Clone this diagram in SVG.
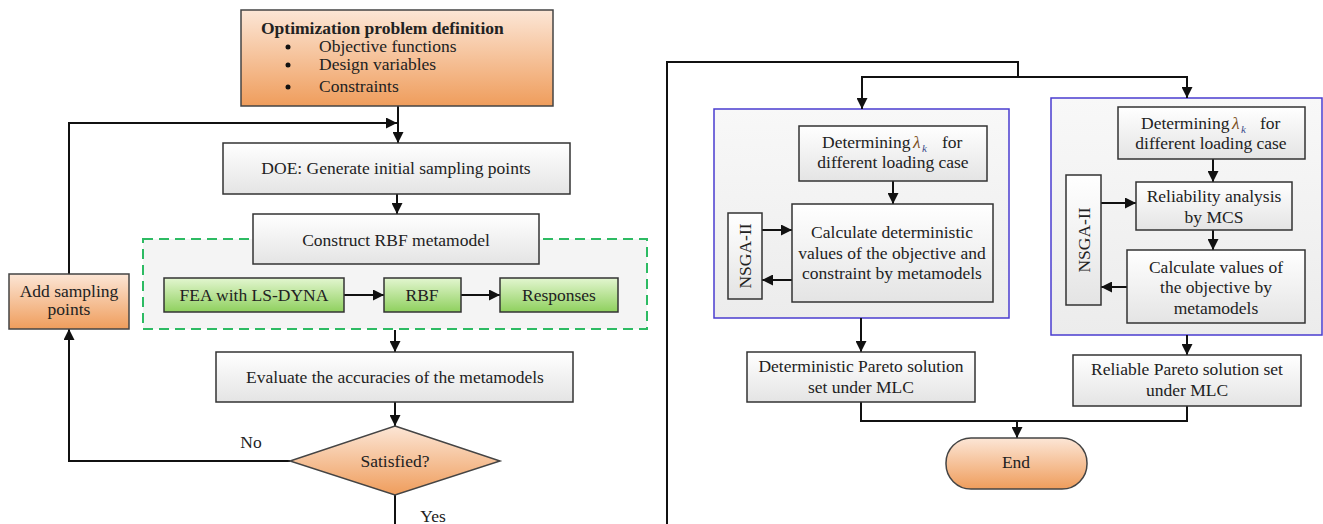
<svg xmlns="http://www.w3.org/2000/svg" width="1323" height="524" viewBox="0 0 1323 524">
<defs>
<linearGradient id="gOrange" x1="0" y1="0" x2="0" y2="1"><stop offset="0" stop-color="#fce6d6"/><stop offset="1" stop-color="#ef9d5c"/></linearGradient>
<linearGradient id="gGray" x1="0" y1="0" x2="0" y2="1"><stop offset="0" stop-color="#ffffff"/><stop offset="1" stop-color="#e4e4e4"/></linearGradient>
<linearGradient id="gGreen" x1="0" y1="0" x2="0" y2="1"><stop offset="0" stop-color="#e3f6d0"/><stop offset="1" stop-color="#8fd05e"/></linearGradient>
<linearGradient id="gPanel" x1="0" y1="0" x2="0" y2="1"><stop offset="0" stop-color="#f8f8f8"/><stop offset="1" stop-color="#ececec"/></linearGradient>
<marker id="arr" viewBox="0 0 10 10" refX="10" refY="5" markerWidth="11" markerHeight="11" markerUnits="userSpaceOnUse" orient="auto"><path d="M0,0 L10,5 L0,10 Z" fill="#111"/></marker>
</defs>
<style>
text{font-family:"Liberation Serif","Times New Roman",serif;font-size:17.5px;fill:#222}
.c{text-anchor:middle}
.box{fill:url(#gGray);stroke:#333;stroke-width:1.5}
.or{fill:url(#gOrange);stroke:#444;stroke-width:1.5}
.gr{fill:url(#gGreen);stroke:#333;stroke-width:1.5}
.panel{fill:url(#gPanel);stroke:#4a3ccf;stroke-width:1.5}
.ln{fill:none;stroke:#111;stroke-width:2}
.ar{fill:none;stroke:#111;stroke-width:2;marker-end:url(#arr)}
.lam{font-style:italic;fill:#7a4e1c}
.sub{font-style:italic;fill:#3a4a8a;font-size:11px}
</style>
<rect width="1323" height="524" fill="#ffffff"/>

<g id="metamodel-group">
<rect x="143" y="239" width="504" height="90" fill="#f4f4f4" stroke="#2dbb63" stroke-width="2" stroke-dasharray="10,6"/>
</g>
<g id="panel-deterministic"><rect class="panel" x="714" y="109" width="295" height="209"/></g>
<g id="panel-reliable"><rect class="panel" x="1051" y="98" width="271" height="237"/></g>

<g id="connectors">
<path class="ar" d="M398,106 V143"/>
<path class="ar" d="M69,274 V123 H397"/>
<path class="ar" d="M397,194 V214"/>
<path class="ar" d="M344,295 H384"/>
<path class="ar" d="M461,295 H500"/>
<path class="ar" d="M395,330 V352"/>
<path class="ar" d="M395,402 V426"/>
<path class="ar" d="M290,461 H69 V329"/>
<path class="ln" d="M395,495 V524"/>
<path class="ln" d="M667,524 V62 H1018 V77"/>
<path class="ar" d="M1018,77 H862 V109"/>
<path class="ar" d="M1018,77 H1187 V98"/>
<path class="ar" d="M893,181 V204"/>
<path class="ar" d="M762,230 H792"/>
<path class="ar" d="M792,280 H762"/>
<path class="ar" d="M1213,159 V182"/>
<path class="ar" d="M1213,230 V250"/>
<path class="ar" d="M1101,203 H1136"/>
<path class="ar" d="M1127,287 H1101"/>
<path class="ar" d="M861,318 V352"/>
<path class="ar" d="M1187,335 V355"/>
<path class="ln" d="M861,402 V421 H1187 V406"/>
<path class="ar" d="M1017,421 V438"/>
<text x="251" y="448" class="c">No</text>
<text x="433" y="522" class="c">Yes</text>
</g>

<g id="problem-definition">
<rect class="or" x="241" y="10" width="312" height="96"/>
<text x="261" y="34" style="font-weight:bold">Optimization problem definition</text>
<circle cx="288" cy="47" r="2.5" fill="#111"/><circle cx="288" cy="65" r="2.5" fill="#111"/><circle cx="288" cy="87" r="2.5" fill="#111"/>
<text x="319" y="52">Objective functions</text>
<text x="319" y="70">Design variables</text>
<text x="319" y="92">Constraints</text>
</g>
<g id="doe"><rect class="box" x="223" y="143" width="347" height="51"/><text x="396" y="174" class="c">DOE: Generate initial sampling points</text></g>
<g id="construct-rbf"><rect class="box" x="253" y="214" width="286" height="50"/><text x="396" y="246" class="c">Construct RBF metamodel</text></g>
<g id="fea"><rect class="gr" x="164" y="278" width="180" height="34"/><text x="254" y="301" class="c">FEA with LS-DYNA</text></g>
<g id="rbf"><rect class="gr" x="384" y="278" width="77" height="34"/><text x="422" y="301" class="c">RBF</text></g>
<g id="responses"><rect class="gr" x="500" y="278" width="118" height="34"/><text x="559" y="301" class="c">Responses</text></g>
<g id="add-sampling"><rect class="or" x="9" y="274" width="120" height="55"/><text x="69" y="297" class="c">Add sampling</text><text x="69" y="315" class="c">points</text></g>
<g id="evaluate"><rect class="box" x="216" y="352" width="357" height="50"/><text x="395" y="383" class="c">Evaluate the accuracies of the metamodels</text></g>
<g id="satisfied"><path class="or" d="M395,426 L500,461 L395,495 L290,461 Z"/><text x="395" y="467" class="c">Satisfied?</text></g>

<g id="det-lambda"><rect class="box" x="799" y="126" width="188" height="55"/>
<text x="822" y="148">Determining</text><text x="913" y="148" class="lam">λ</text><text x="922" y="152" class="sub">k</text><text x="942" y="148">for</text>
<text x="893" y="168" class="c">different loading case</text></g>
<g id="det-calc"><rect class="box" x="792" y="204" width="201" height="98"/>
<text x="892" y="238" class="c">Calculate deterministic</text>
<text x="892" y="259" class="c">values of the objective and</text>
<text x="892" y="279" class="c">constraint by metamodels</text></g>
<g id="det-nsga"><rect class="box" x="728" y="213" width="34" height="86"/><text transform="translate(751,256) rotate(-90)" class="c">NSGA-II</text></g>
<g id="det-pareto"><rect class="box" x="747" y="352" width="228" height="50"/>
<text x="861" y="372" class="c">Deterministic Pareto solution</text>
<text x="861" y="393" class="c">set under MLC</text></g>

<g id="rel-lambda"><rect class="box" x="1118" y="107" width="187" height="52"/>
<text x="1141" y="129">Determining</text><text x="1232" y="129" class="lam">λ</text><text x="1241" y="133" class="sub">k</text><text x="1260" y="129">for</text>
<text x="1211" y="149" class="c">different loading case</text></g>
<g id="reliability"><rect class="box" x="1136" y="182" width="156" height="48"/>
<text x="1214" y="202" class="c">Reliability analysis</text>
<text x="1214" y="223" class="c">by MCS</text></g>
<g id="rel-calc"><rect class="box" x="1127" y="250" width="178" height="73"/>
<text x="1216" y="273" class="c">Calculate values of</text>
<text x="1216" y="293" class="c">the objective by</text>
<text x="1216" y="314" class="c">metamodels</text></g>
<g id="rel-nsga"><rect class="box" x="1066" y="175" width="35" height="130"/><text transform="translate(1090,240) rotate(-90)" class="c">NSGA-II</text></g>
<g id="rel-pareto"><rect class="box" x="1073" y="355" width="228" height="51"/>
<text x="1187" y="375" class="c">Reliable Pareto solution set</text>
<text x="1187" y="396" class="c">under MLC</text></g>

<g id="end"><rect class="or" x="946" y="438" width="141" height="51" rx="25" ry="25"/><text x="1016" y="468" class="c">End</text></g>
</svg>
